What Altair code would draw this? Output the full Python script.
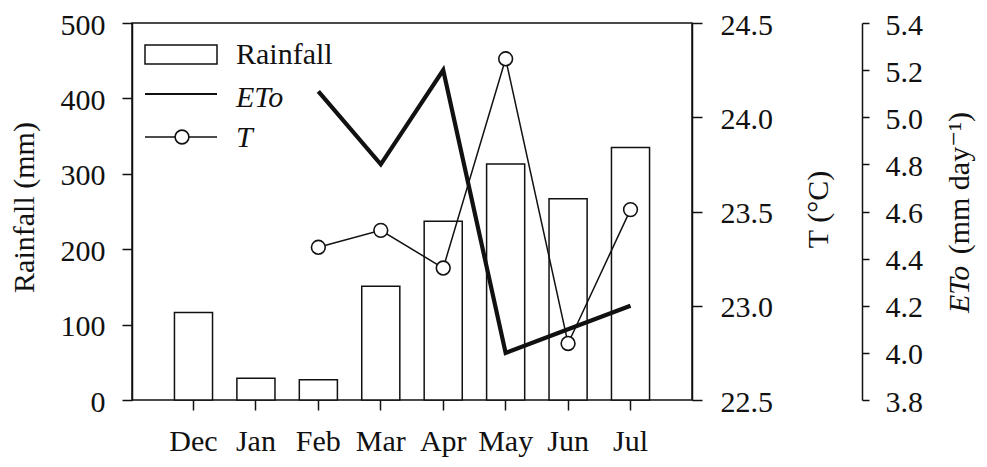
import altair as alt
import pandas as pd

months = ["Dec", "Jan", "Feb", "Mar", "Apr", "May", "Jun", "Jul"]
rainfall = [116, 29, 27, 151, 237, 313, 267, 335]
line_months = ["Feb", "Mar", "Apr", "May", "Jun", "Jul"]
temperature = [23.31, 23.40, 23.20, 24.31, 22.80, 23.51]
eto = [5.11, 4.80, 5.20, 4.00, 4.10, 4.20]
rain_ticks = [0, 100, 200, 300, 400, 500]
t_ticks = [22.5, 23.0, 23.5, 24.0, 24.5]
eto_ticks = [3.8, 4.0, 4.2, 4.4, 4.6, 4.8, 5.0, 5.2, 5.4]

INK = "#111111"
FONT = "Liberation Serif, Times New Roman, Times, DejaVu Serif, serif"
FS = 30

rain_df = pd.DataFrame({"month": months, "rainfall": rainfall})
t_df = pd.DataFrame({"month": line_months, "T": temperature})
e_df = pd.DataFrame({"month": line_months, "ETo": eto})
one = pd.DataFrame({"k": [0]})

xscale = alt.Scale(domain=months, paddingInner=0.39, paddingOuter=0.68)
xaxis = alt.Axis(title=None, labelAngle=0, tickSize=10, labelPadding=16, domain=False)

bars = alt.Chart(rain_df).mark_bar(fill="white", stroke=INK, strokeWidth=1.5).encode(
    x=alt.X("month:N", scale=xscale, axis=xaxis, sort=months),
    y=alt.Y("rainfall:Q", scale=alt.Scale(domain=[0, 500], nice=False),
            axis=alt.Axis(orient="left", values=rain_ticks, tickSize=10, labelPadding=17,
                          labelOffset=2,
                          title="Rainfall (mm)", titleX=-108, titleY=184, titleAngle=270,
                          titleAlign="center", titleBaseline="middle")),
)

tline = alt.Chart(t_df).mark_line(
    color=INK, strokeWidth=1.5,
    point=alt.OverlayMarkDef(shape="circle", size=190, filled=True, fill="white",
                             stroke=INK, strokeWidth=1.6),
).encode(
    x=alt.X("month:N", scale=xscale, axis=xaxis, sort=months),
    y=alt.Y("T:Q", scale=alt.Scale(domain=[22.5, 24.5], nice=False, zero=False),
            axis=alt.Axis(orient="right", values=t_ticks, format=".1f", tickSize=10,
                          labelPadding=18, labelOffset=2, title="T (°C)", titleX=126,
                          titleY=186, titleAngle=270, titleAlign="center",
                          titleBaseline="middle")),
)

eline = alt.Chart(e_df).mark_line(color=INK, strokeWidth=4.2).encode(
    x=alt.X("month:N", scale=xscale, axis=xaxis, sort=months),
    y=alt.Y("ETo:Q", scale=alt.Scale(domain=[3.8, 5.4], nice=False, zero=False),
            axis=alt.Axis(orient="right", offset=170, values=eto_ticks, format=".1f",
                          tickSize=7, labelPadding=16, labelOffset=2, title=None)),
)

# legend (drawn inside the plot, top-left)
leg_rect = alt.Chart(one).mark_rect(fill="white", stroke=INK, strokeWidth=1.5).encode(
    x=alt.value(13), x2=alt.value(85), y=alt.value(22), y2=alt.value(41))
leg_eto = alt.Chart(one).mark_rule(color=INK, strokeWidth=1.8).encode(
    x=alt.value(13), x2=alt.value(85), y=alt.value(71))
leg_t = alt.Chart(one).mark_rule(color=INK, strokeWidth=1.5).encode(
    x=alt.value(13), x2=alt.value(85), y=alt.value(114))
leg_tp = alt.Chart(one).mark_point(shape="circle", size=190, filled=True, fill="white",
                                   stroke=INK, strokeWidth=1.6, opacity=1).encode(
    x=alt.value(50), y=alt.value(114))
txt_kw = dict(font=FONT, fontSize=FS, color=INK, align="left", baseline="alphabetic")
leg_t1 = alt.Chart(one).mark_text(text="Rainfall", **txt_kw).encode(
    x=alt.value(104), y=alt.value(41))
leg_t2 = alt.Chart(one).mark_text(text="ETo", fontStyle="italic", **txt_kw).encode(
    x=alt.value(104), y=alt.value(84))
leg_t3 = alt.Chart(one).mark_text(text="T", fontStyle="italic", **txt_kw).encode(
    x=alt.value(104), y=alt.value(124))

# ETo axis title (italic ETo + upright unit)
et1 = alt.Chart(one).mark_text(text="ETo", fontStyle="italic", font=FONT, fontSize=FS,
                               color=INK, angle=270, align="left", baseline="middle").encode(
    x=alt.value(828), y=alt.value(290))
et2 = alt.Chart(one).mark_text(text="(mm day⁻¹)", font=FONT, fontSize=FS,
                               color=INK, angle=270, align="right", baseline="middle").encode(
    x=alt.value(828), y=alt.value(89))

chart = alt.layer(
    bars, tline, eline, leg_rect, leg_eto, leg_t, leg_tp, leg_t1, leg_t2, leg_t3, et1, et2
).resolve_scale(y="independent").properties(
    width=560, height=377,
    autosize=alt.AutoSizeParams(type="none"),
    padding={"left": 124, "top": 15, "right": 287, "bottom": 59},
    background="white",
).configure_view(stroke=INK, strokeWidth=1.5).configure_axis(
    labelFont=FONT, labelFontSize=FS, titleFont=FONT, titleFontSize=FS,
    labelColor=INK, titleColor=INK, domainColor=INK, tickColor=INK,
    domainWidth=1.5, tickWidth=1.5, grid=False, titleFontWeight="normal",
)

chart.save("out.html", embed_options={"renderer": "svg", "actions": False})
